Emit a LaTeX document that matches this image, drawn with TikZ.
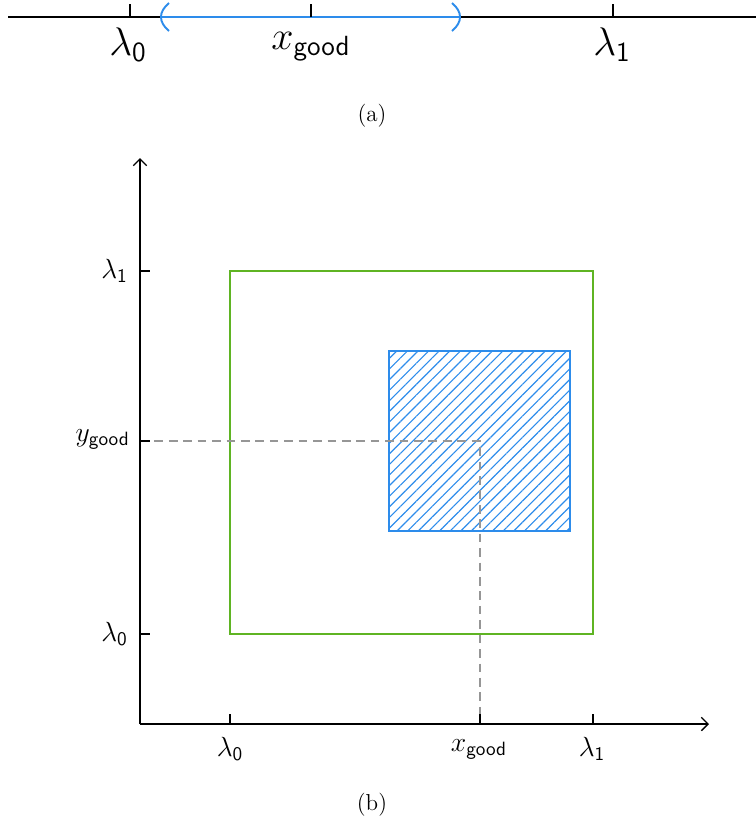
\documentclass[tikz,border=0pt]{standalone}
\usepackage{tikz}
\usetikzlibrary{arrows.meta,patterns.meta,calc}
\definecolor{regiongreen}{RGB}{95,180,35}
\definecolor{goodblue}{RGB}{45,140,235}
\definecolor{guidegray}{RGB}{150,150,150}

\begin{document}
\begin{tikzpicture}[x=0.52pt,y=-0.52pt,
  >={Straight Barb[length=3.5pt,width=7pt]},
  axis/.style={->,line width=0.7pt},
  tickmark/.style={line width=0.6pt},
  guide/.style={guidegray,dash pattern=on 4.5pt off 3pt,line width=0.6pt},
  region/.style={draw=regiongreen,line width=0.7pt},
  goodregion/.style={draw=goodblue,line width=0.9pt,pattern={Lines[angle=45,distance=3.9pt,line width=0.6pt]},pattern color=goodblue},
  interval/.style={goodblue,line width=1.2pt},
  biglabel/.style={font=\huge,inner sep=1pt},
  axlabel/.style={font=\Large,inner sep=2pt},
  caption/.style={font=\large,inner sep=1pt}
]
\useasboundingbox (0,0) rectangle (756,822);

% (a) number line
\coordinate (la) at (8,17);
\coordinate (ra) at (766,17);
\draw[axis] (la) -- (ra);
\coordinate (lo) at (161,17);
\coordinate (hi) at (460,17);
\draw[interval] (lo) -- (hi);
\draw[interval,line width=1pt] ($(lo)+(8,-14)$) .. controls ($(lo)+(-2.7,-5)$) and ($(lo)+(-2.7,5)$) .. ($(lo)+(8,14)$);
\draw[interval,line width=1pt] ($(hi)+(-8,-14)$) .. controls ($(hi)+(2.7,-5)$) and ($(hi)+(2.7,5)$) .. ($(hi)+(-8,14)$);
\foreach \px in {130,311,613}
  \draw[tickmark] (\px,17) -- (\px,4);

\node[biglabel] (al0) at (128,45) {$\lambda_{\mathsf{0}}$};
\node[biglabel] (axg) at (311,47) {$x_{\mathsf{good}}$};
\node[biglabel] (al1) at (612,45) {$\lambda_{\mathsf{1}}$};
\node[caption] (capa) at (372,116) {(a)};

% (b) square of candidates
\coordinate (O) at (140,724);
\coordinate (xe) at (709,724);
\coordinate (ye) at (140,158);
\coordinate (g) at (480,441);

\draw[region] (230,271) rectangle (593,634);
\draw[goodregion] (389,351) rectangle (570,531);
\draw[guide] (O |- g) -- (g) -- (g |- O);

\draw[axis] (O) -- (xe);
\draw[axis] (O) -- (ye);
\foreach \px in {230,480,593}
  \draw[tickmark] (\px,724) -- (\px,714);
\foreach \py in {271,441,634}
  \draw[tickmark] (140,\py) -- (150,\py);

\node[axlabel,anchor=east] (yl1) at (132,271) {$\lambda_{\mathsf{1}}$};
\node[axlabel,anchor=east] (ylg) at (134,439) {$y_{\mathsf{good}}$};
\node[axlabel,anchor=east] (yl0) at (132,634) {$\lambda_{\mathsf{0}}$};
\node[axlabel,anchor=north] (xl0) at (230,733) {$\lambda_{\mathsf{0}}$};
\node[axlabel,anchor=north] (xlg) at (479,735) {$x_{\mathsf{good}}$};
\node[axlabel,anchor=north] (xl1) at (592,733) {$\lambda_{\mathsf{1}}$};
\node[caption] (capb) at (372,805) {(b)};
\end{tikzpicture}
\end{document}
